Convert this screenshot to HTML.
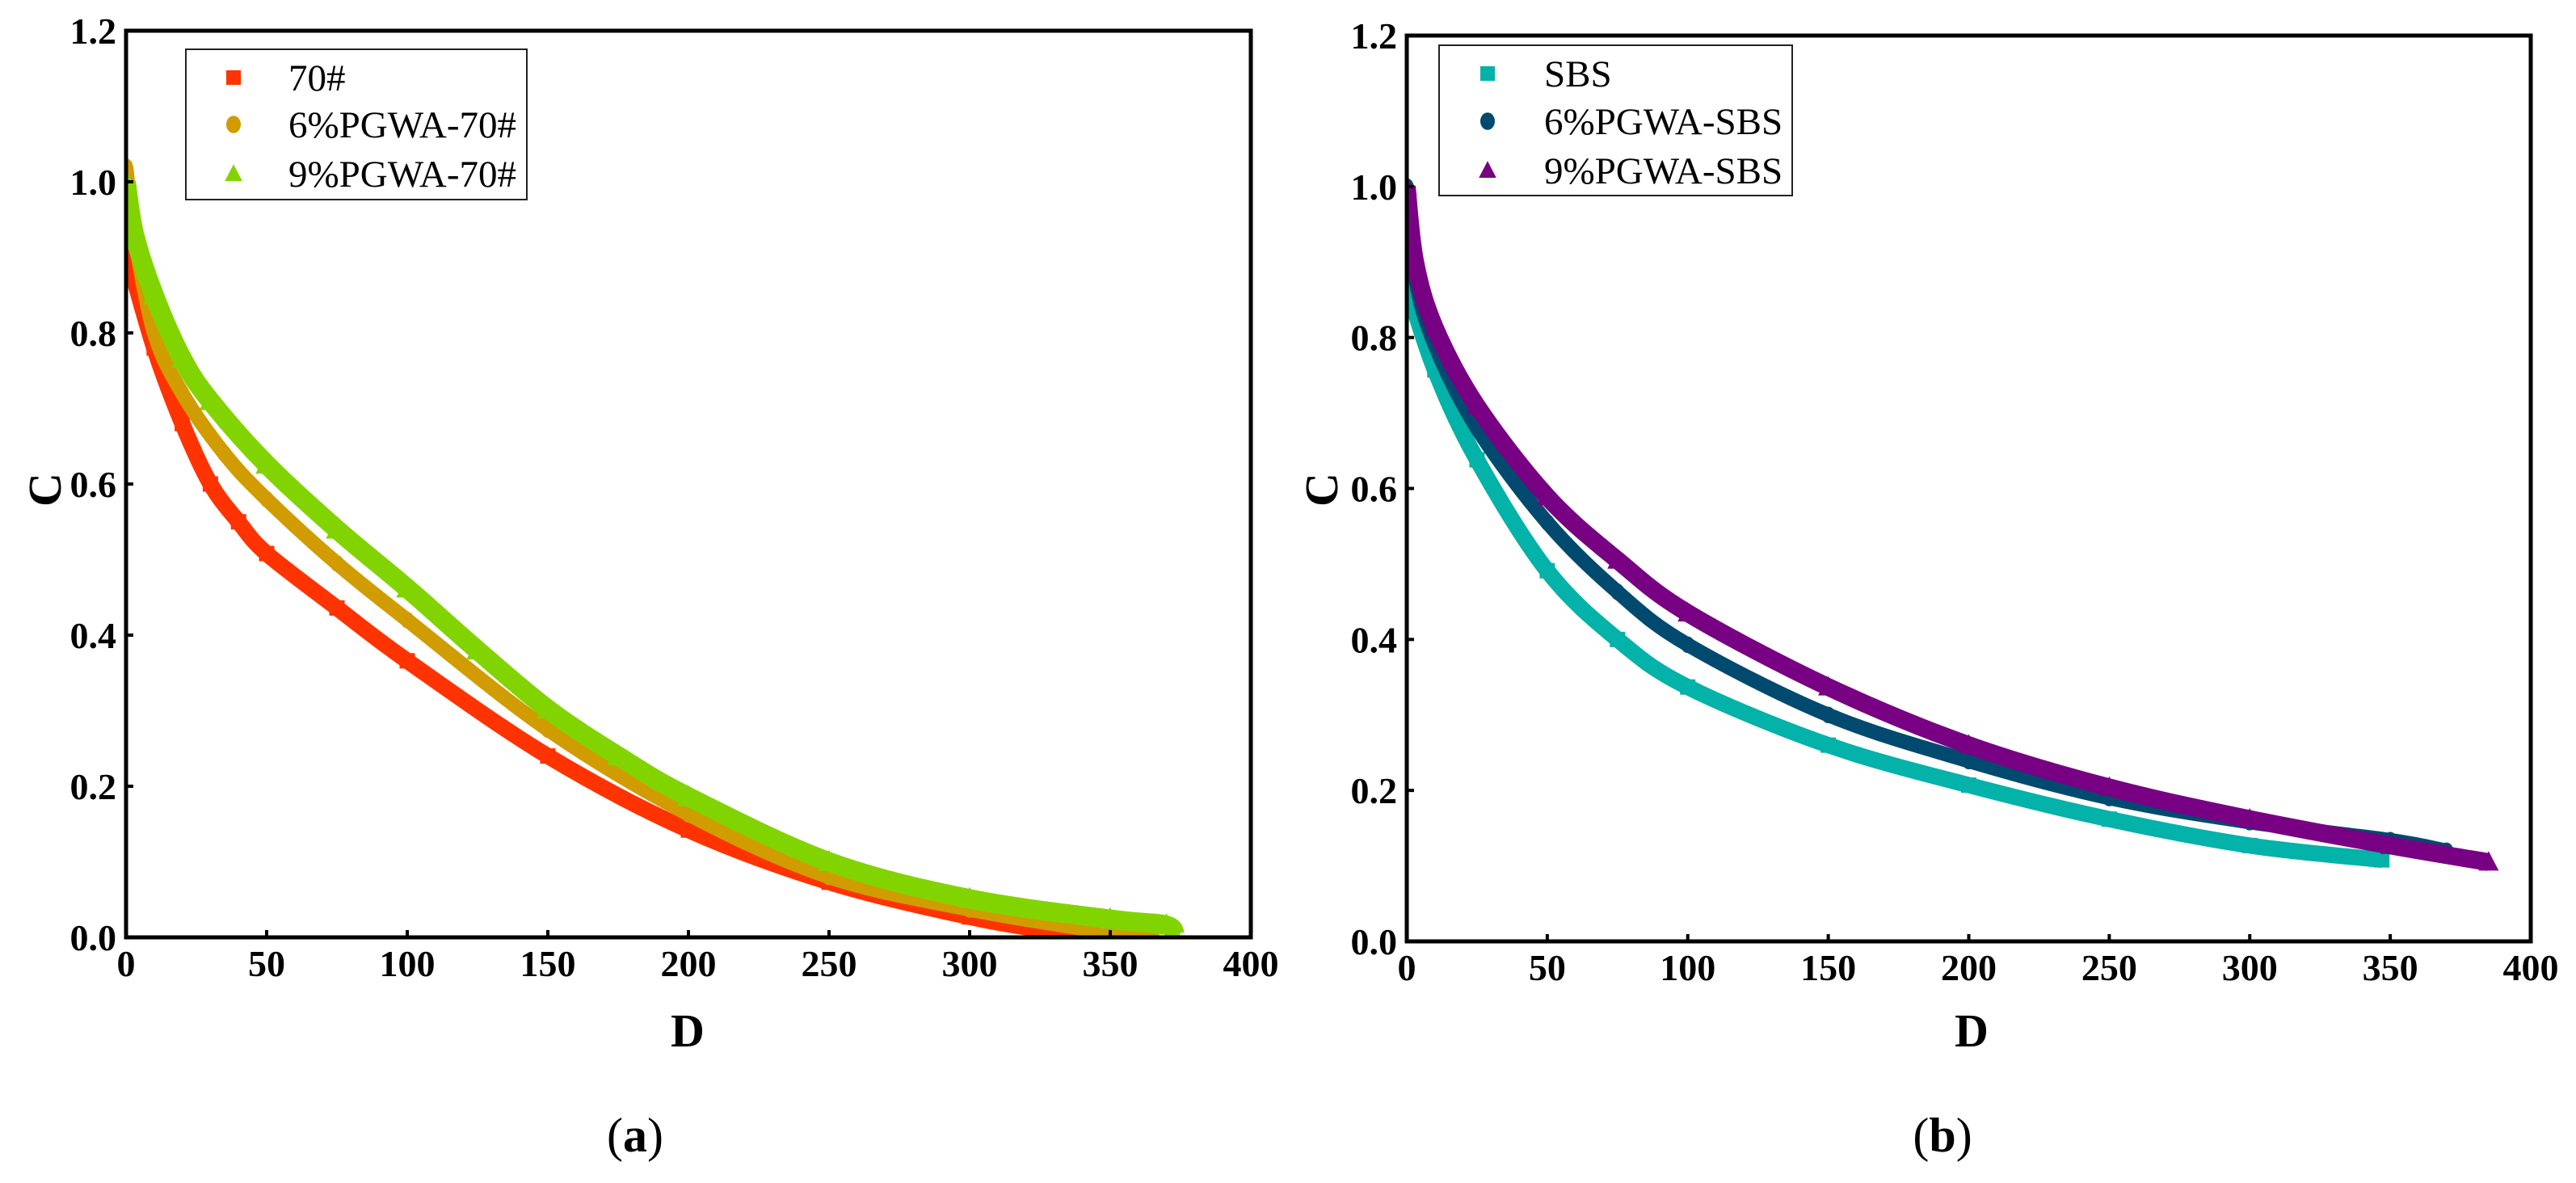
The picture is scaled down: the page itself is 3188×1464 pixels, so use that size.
<!DOCTYPE html>
<html><head><meta charset="utf-8"><style>
html,body{margin:0;padding:0;background:#fff;}
svg{display:block;}
</style></head><body>
<svg id="fig" width="3188" height="1464" viewBox="0 0 3188 1464" xmlns="http://www.w3.org/2000/svg" font-family="'Liberation Serif','DejaVu Serif',serif"></svg>
<script>
// ---- data ----
const xTicks = [0,50,100,150,200,250,300,350,400];
const yTicks = [0.0,0.2,0.4,0.6,0.8,1.0,1.2];
const yTickLabels = ["0.0","0.2","0.4","0.6","0.8","1.0","1.2"];

const dA70 = [0,10,20,30,40,50,75,100,150,200,250,300,330,350];
const cA70 = [0.91,0.78,0.68,0.60,0.55,0.508,0.436,0.366,0.24,0.142,0.073,0.027,0.008,0.0];
const dA6 = [0,3,10,20,35,50,75,100,150,200,250,300,340,365];
const cA6 = [1.02,0.93,0.80,0.72,0.64,0.58,0.495,0.42,0.275,0.163,0.08,0.037,0.012,0.0];
const dA9 = [0,3,10,20,30,50,75,100,125,150,175,200,250,300,350,370,373];
const cA9 = [1.0,0.93,0.85,0.766,0.71,0.626,0.54,0.462,0.38,0.302,0.24,0.186,0.10,0.051,0.024,0.016,0.0];

const dBS = [0,10,25,50,75,100,150,200,250,300,347];
const cBS = [0.87,0.757,0.638,0.491,0.40,0.337,0.26,0.207,0.162,0.127,0.108];
const dB6 = [0,3,10,25,50,75,100,150,200,250,300,350,370];
const cB6 = [1.0,0.88,0.79,0.68,0.555,0.463,0.393,0.30,0.239,0.19,0.158,0.134,0.12];
const dB9 = [0,3,10,25,50,75,100,150,200,250,300,350,385];
const cB9 = [1.0,0.90,0.813,0.709,0.589,0.505,0.435,0.337,0.26,0.204,0.162,0.127,0.105];

const NS="http://www.w3.org/2000/svg";
const svg=document.getElementById('fig');
const FF="'Liberation Serif','DejaVu Serif',serif";
function mk(tag,attrs,parent){const e=document.createElementNS(NS,tag);for(const k in attrs)e.setAttribute(k,attrs[k]);if(tag==='text')e.setAttribute('font-family',FF);(parent||svg).appendChild(e);return e;}

function marker(g,shape,x,y,s,color){
  let m;
  if(shape==='square') m=mk('rect',{x:x-s/2,y:y-s/2,width:s,height:s,fill:color},g);
  else if(shape==='circle') m=mk('ellipse',{cx:x,cy:y,rx:s*0.5,ry:s*0.6,fill:color},g);
  else m=mk('polygon',{points:`${x},${y-s*0.65} ${x-s*0.6},${y+s*0.5} ${x+s*0.6},${y+s*0.5}`,fill:color},g);
  return m;
}

function smoothPath(pts){
  let d=`M${pts[0][0]},${pts[0][1]}`;
  for(let i=0;i<pts.length-1;i++){
    const p0=pts[Math.max(0,i-1)],p1=pts[i],p2=pts[i+1],p3=pts[Math.min(pts.length-1,i+2)];
    const c1=[p1[0]+(p2[0]-p0[0])/6,p1[1]+(p2[1]-p0[1])/6];
    const c2=[p2[0]-(p3[0]-p1[0])/6,p2[1]-(p3[1]-p1[1])/6];
    d+=` C${c1[0]},${c1[1]} ${c2[0]},${c2[1]} ${p2[0]},${p2[1]}`;
  }
  return d;
}

function chart(cfg){
  const {x0,x1,y0,y1,key}=cfg;
  const sx=v=>x0+(v/400)*(x1-x0);
  const sy=v=>y1-(v/1.2)*(y1-y0);
  const g=mk('g',{});
  
  
  const clipId='clip'+key;
  const cp=mk('clipPath',{id:clipId},g);
  mk('rect',{x:x0,y:y0,width:x1-x0,height:y1-y0},cp);
  const plot=mk('g',{'clip-path':`url(#${clipId})`},g);
  
  
  cfg.series.forEach(s=>{
    const sg=mk('g',{},plot);
    
    
    const pts=s.d.map((d,i)=>[sx(d),sy(s.c[i])]);
    const p=mk('path',{d:smoothPath(pts),fill:'none',stroke:s.color,'stroke-width':s.w,'stroke-linecap':'butt','stroke-linejoin':'round'},sg);
    
    
    pts.forEach(pt=>{
      const m=marker(sg,s.shape,pt[0],pt[1],s.w*0.95,s.color);
      
      
    });
  });
  const fr=mk('rect',{x:x0,y:y0,width:x1-x0,height:y1-y0,fill:'none',stroke:'#000','stroke-width':5},g);
  
  
  xTicks.forEach(v=>{
    const x=sx(v);
    const t=mk('line',{x1:x,x2:x,y1:y1,y2:y1-9,stroke:'#000','stroke-width':4},g);
    
    
    const l=mk('text',{x:x,y:y1+48,'text-anchor':'middle','font-size':46,'font-weight':'bold'},g);
    l.textContent=String(v);
    
    
  });
  yTicks.forEach((v,i)=>{
    const y=sy(v);
    const t=mk('line',{x1:x0,x2:x0+9,y1:y,y2:y,stroke:'#000','stroke-width':4},g);
    
    
    const l=mk('text',{x:x0-12,y:y+16,'text-anchor':'end','font-size':46,'font-weight':'bold'},g);
    l.textContent=yTickLabels[i];
    
    
  });
  const xt=mk('text',{x:cfg.dx,y:1295,'text-anchor':'middle','font-size':58,'font-weight':'bold'},g);
  xt.textContent='D';
  
  
  const yt=mk('text',{x:0,y:0,'text-anchor':'middle','font-size':58,'font-weight':'bold',transform:`translate(${cfg.cx},606) rotate(-90)`},g);
  yt.textContent='C';
  
  
  const pl=mk('text',{x:cfg.px,y:1425,'text-anchor':'middle','font-size':60},g);
  pl.innerHTML='(<tspan font-weight="bold">'+key+'</tspan>)';
  
  
  const L=cfg.legend;
  const lg=mk('g',{},g);
  
  
  mk('rect',{x:L.x,y:L.y,width:L.w,height:L.h,fill:'#fff',stroke:'#222','stroke-width':2},lg);
  cfg.series.forEach((s,i)=>{
    const ry=L.rows[i];
    const e=mk('g',{},lg);
    
    
    marker(e,s.shape,L.mx,ry,18,s.color);
    const t=mk('text',{x:L.tx,y:ry+16,'font-size':47},e);
    t.textContent=s.label;
  });
}

chart({key:'a',x0:156,x1:1548,y0:38,y1:1160,dx:851,cx:75,px:786,
  legend:{x:230,y:61,w:422,h:186,mx:289,tx:357,rows:[96,154,215]},
  series:[
    {id:'70',label:'70#',d:dA70,c:cA70,color:'#ff3300',shape:'square',w:20},
    {id:'6pgwa-70',label:'6%PGWA-70#',d:dA6,c:cA6,color:'#d19c00',shape:'circle',w:18},
    {id:'9pgwa-70',label:'9%PGWA-70#',d:dA9,c:cA9,color:'#82d400',shape:'triangle',w:24}
  ]});
chart({key:'b',x0:1741,x1:3132,y0:44,y1:1165,dx:2440,cx:1655,px:2404,
  legend:{x:1781,y:56,w:437,h:186,mx:1841,tx:1911,rows:[91,150,211]},
  series:[
    {id:'sbs',label:'SBS',d:dBS,c:cBS,color:'#03b2a8',shape:'square',w:20},
    {id:'6pgwa-sbs',label:'6%PGWA-SBS',d:dB6,c:cB6,color:'#004a70',shape:'circle',w:18},
    {id:'9pgwa-sbs',label:'9%PGWA-SBS',d:dB9,c:cB9,color:'#780082',shape:'triangle',w:22}
  ]});
</script>
</body></html>
